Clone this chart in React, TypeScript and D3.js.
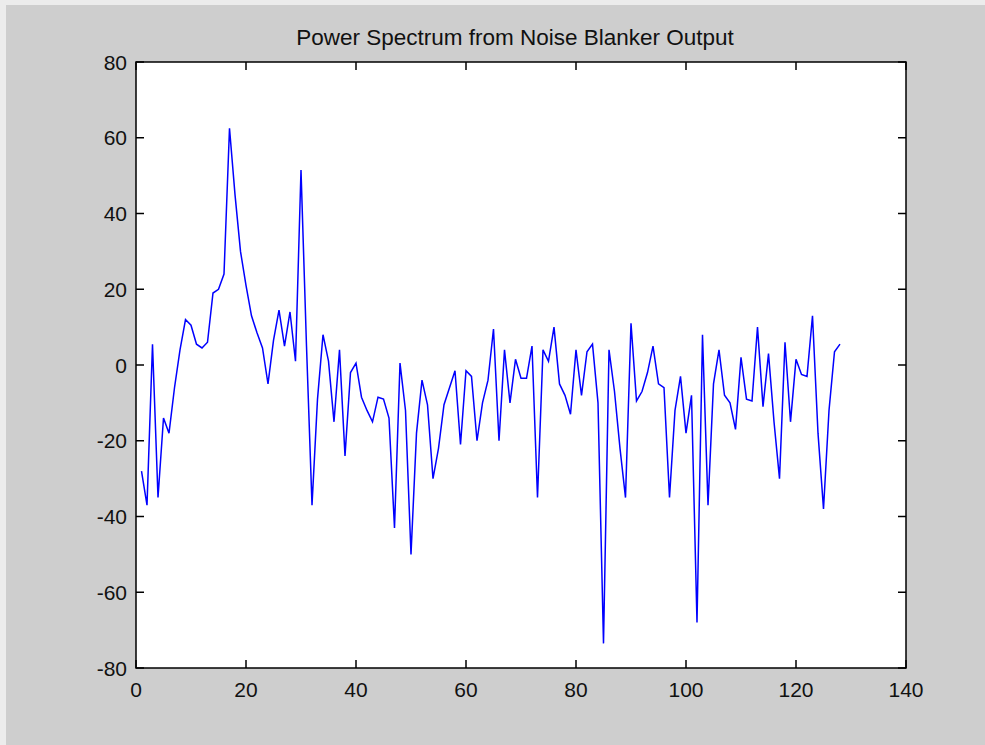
import React, { useEffect, useRef } from 'react';
import * as d3 from 'd3';

// power spectrum samples, bins 1..128 (dB)
const bins: number[] = d3.range(1, 129);
const power: number[] = [
  -28, -37, 5.5, -35, -14, -18, -6, 4, 12, 10.5,
  5.5, 4.5, 6, 19, 20, 24, 62.5, 45, 30, 21,
  13, 8.5, 4.5, -5, 6.5, 14.5, 5, 14, 1, 51.5,
  5, -37, -9, 8, 1, -15, 4, -24, -2, 0.5,
  -8.5, -12, -15, -8.5, -9, -14, -43, 0.5, -12, -50,
  -18, -4, -10.5, -30, -22, -10.5, -6, -1.5, -21, -1.5,
  -3, -20, -10, -4, 9.5, -20, 4, -10, 1.5, -3.5,
  -3.5, 5, -35, 4, 1, 10, -5, -8, -13, 4,
  -8, 3.5, 5.5, -10, -73.5, 4, -7, -22, -35, 11,
  -9.5, -7, -2, 5, -5, -6, -35, -12, -3, -18,
  -8, -68, 8, -37, -5, 4, -8, -10, -17, 2,
  -9, -9.5, 10, -11, 3, -15, -30, 6, -15, 1.5,
  -2.5, -3, 13, -18, -38, -12, 3.5, 5.5,
];
const xTicks = [0, 20, 40, 60, 80, 100, 120, 140];
const yTicks = [-80, -60, -40, -20, 0, 20, 40, 60, 80];
const title = 'Power Spectrum from Noise Blanker Output';

const W = 985;
const H = 745;
const plot = { left: 136, right: 906, top: 62, bottom: 668 };

export default function App() {
  const svgRef = useRef<SVGSVGElement>(null);

  useEffect(() => {
    if (!svgRef.current) return;
    const svg = d3.select(svgRef.current);
    svg.selectAll('*').remove();

    const x = d3.scaleLinear().domain([0, 140]).range([plot.left, plot.right]);
    const y = d3.scaleLinear().domain([-80, 80]).range([plot.bottom, plot.top]);
    const font = 'Arial, "Liberation Sans", Helvetica, sans-serif';

    // figure background
    svg.append('rect').attr('width', W).attr('height', H).attr('fill', '#ececec');
    svg.append('rect').attr('x', 6).attr('y', 5).attr('width', W - 6).attr('height', H - 5).attr('fill', '#cecece');

    // axes area
    svg.append('rect')
      .attr('x', plot.left).attr('y', plot.top)
      .attr('width', plot.right - plot.left).attr('height', plot.bottom - plot.top)
      .attr('fill', 'white');

    // data line
    const line = d3.line<number>()
      .x((_, i) => x(bins[i]))
      .y(d => y(d));
    svg.append('path')
      .datum(power)
      .attr('d', line)
      .attr('fill', 'none')
      .attr('stroke', '#0000ff')
      .attr('stroke-width', 1.5)
      .attr('stroke-linejoin', 'miter');

    const tickLen = 8;
    const ax = svg.append('g').attr('stroke', '#000').attr('stroke-width', 1.5).attr('fill', 'none');
    // ticks on all four sides, pointing inward (box on)
    xTicks.forEach(t => {
      ax.append('line').attr('x1', x(t)).attr('x2', x(t)).attr('y1', plot.bottom).attr('y2', plot.bottom - tickLen);
      ax.append('line').attr('x1', x(t)).attr('x2', x(t)).attr('y1', plot.top).attr('y2', plot.top + tickLen);
    });
    yTicks.forEach(t => {
      ax.append('line').attr('x1', plot.left).attr('x2', plot.left + tickLen).attr('y1', y(t)).attr('y2', y(t));
      ax.append('line').attr('x1', plot.right).attr('x2', plot.right - tickLen).attr('y1', y(t)).attr('y2', y(t));
    });
    ax.append('rect')
      .attr('x', plot.left).attr('y', plot.top)
      .attr('width', plot.right - plot.left).attr('height', plot.bottom - plot.top);

    // tick labels
    svg.append('g').selectAll('text').data(xTicks).enter().append('text')
      .attr('x', d => x(d)).attr('y', plot.bottom + 29)
      .attr('text-anchor', 'middle')
      .attr('font-family', font).attr('font-size', 21).attr('fill', '#111')
      .text(d => String(d));
    svg.append('g').selectAll('text').data(yTicks).enter().append('text')
      .attr('x', plot.left - 9).attr('y', d => y(d) + 7.5)
      .attr('text-anchor', 'end')
      .attr('font-family', font).attr('font-size', 21).attr('fill', '#111')
      .text(d => String(d));

    // title
    svg.append('text')
      .attr('x', (plot.left + plot.right) / 2 - 6).attr('y', 45)
      .attr('text-anchor', 'middle')
      .attr('font-family', font).attr('font-size', 22.5).attr('fill', '#111')
      .text(title);
  }, []);

  return (
    <svg ref={svgRef} width={W} height={H}
      style={{ position: 'absolute', left: 0, top: 0, display: 'block' }} />
  );
}
